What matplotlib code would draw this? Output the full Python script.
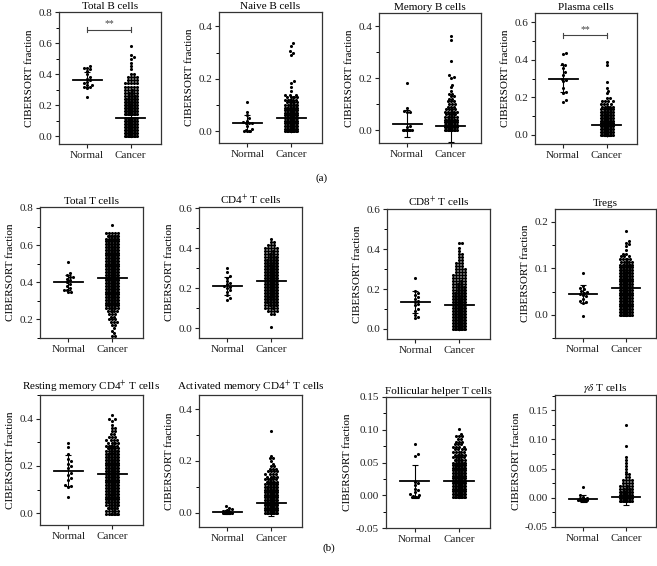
import numpy as np
import matplotlib
matplotlib.use("Agg")
import matplotlib.pyplot as plt
from matplotlib.ticker import MultipleLocator, FormatStrFormatter

plt.rcParams["font.family"] = ["Liberation Serif", "DejaVu Serif"]
plt.rcParams["mathtext.fontset"] = "stix"

# DATA
groups = ["Normal", "Cancer"]
titles = ["Total B cells", "Naive B cells", "Memory B cells", "Plasma cells",
          "Total T cells", "CD4$^{+}$ T cells", "CD8$^{+}$ T cells", "Tregs",
          "Resting memory CD4$^{+}$ T cells", "Activated memory CD4$^{+}$ T cells",
          "Follicular helper T cells", "$\\gamma\\delta$ T cells"]

# normal samples (individual points)
tb_norm = [0.45, 0.44, 0.44, 0.43, 0.42, 0.40, 0.38, 0.37, 0.36, 0.35, 0.34, 0.33, 0.33, 0.32, 0.32, 0.31, 0.25]
nb_norm = [0.11, 0.075, 0.06, 0.05, 0.04, 0.035, 0.03, 0.03, 0.03, 0.02, 0.01, 0.005, 0.0, 0.0, 0.0, 0.0]
mb_norm = [0.18, 0.085, 0.075, 0.07, 0.07, 0.015, 0.01, 0.0, 0.0, 0.0, 0.0, 0.0, 0.0, 0.0, 0.0]
pc_norm = [0.435, 0.43, 0.38, 0.37, 0.355, 0.335, 0.32, 0.30, 0.29, 0.285, 0.25, 0.23, 0.22, 0.185, 0.175]
tt_norm = [0.51, 0.45, 0.44, 0.43, 0.43, 0.42, 0.41, 0.40, 0.39, 0.38, 0.37, 0.36, 0.36, 0.35, 0.345]
cd4_norm = [0.30, 0.28, 0.26, 0.25, 0.235, 0.225, 0.22, 0.21, 0.205, 0.20, 0.19, 0.18, 0.165, 0.15, 0.14]
cd8_norm = [0.255, 0.19, 0.18, 0.17, 0.16, 0.15, 0.14, 0.135, 0.125, 0.12, 0.10, 0.09, 0.07, 0.06, 0.055]
tr_norm = [0.09, 0.063, 0.058, 0.055, 0.052, 0.05, 0.048, 0.045, 0.042, 0.04, 0.035, 0.03, 0.028, 0.025, -0.003]
rm_norm = [0.295, 0.28, 0.25, 0.23, 0.22, 0.21, 0.20, 0.19, 0.17, 0.16, 0.15, 0.14, 0.12, 0.115, 0.11, 0.07]
am_norm = [0.028, 0.02, 0.015, 0.01, 0.008, 0.005, 0.004, 0.003, 0.002, 0.0, 0.0, 0.0, 0.0, 0.0, 0.0, 0.0]
fh_norm = [0.079, 0.063, 0.06, 0.02, 0.018, 0.015, 0.01, 0.008, 0.005, 0.002, 0.0, -0.001, -0.002, -0.002, -0.002, -0.002]
gd_norm = [0.018, 0.004, 0.002, 0.0, -0.001, -0.002, -0.002, -0.003, -0.003, -0.003, -0.004, -0.004, -0.004, -0.005, -0.005]

# cancer samples: value levels and how many points sit at each level
tb_lv = [0.00, 0.02, 0.04, 0.06, 0.08, 0.10, 0.12, 0.14, 0.16, 0.18, 0.20, 0.22, 0.24, 0.26, 0.28, 0.30, 0.32, 0.34,
         0.36, 0.38, 0.40, 0.43, 0.45, 0.47, 0.50, 0.51, 0.52, 0.58]
tb_n = [14, 18, 20, 22, 22, 22, 20, 18, 16, 14, 12, 10, 9, 8, 7, 6, 5, 5, 4, 4, 2, 1, 1, 1, 1, 1, 1, 1]
nb_lv = [0.00, 0.01, 0.02, 0.03, 0.04, 0.05, 0.06, 0.07, 0.08, 0.09, 0.10, 0.11, 0.12, 0.13, 0.14, 0.155, 0.17,
         0.185, 0.19, 0.29, 0.30, 0.305, 0.325, 0.335]
nb_n = [20, 22, 22, 20, 20, 18, 16, 14, 12, 10, 8, 6, 6, 5, 3, 1, 1, 1, 1, 1, 1, 1, 1, 1]
mb_lv = [0.00, 0.01, 0.02, 0.03, 0.04, 0.05, 0.06, 0.07, 0.08, 0.09, 0.10, 0.11, 0.12, 0.13, 0.14, 0.15, 0.165,
         0.175, 0.20, 0.205, 0.21, 0.265, 0.345, 0.36]
mb_n = [50, 25, 18, 14, 10, 7, 6, 6, 4, 3, 3, 3, 2, 2, 2, 1, 1, 1, 1, 1, 1, 1, 1, 1]
pc_lv = [0.000, 0.015, 0.030, 0.045, 0.060, 0.075, 0.090, 0.105, 0.120, 0.135, 0.150, 0.165, 0.180, 0.195,
         0.22, 0.235, 0.25, 0.28, 0.37, 0.39]
pc_n = [30, 30, 28, 24, 20, 17, 14, 12, 10, 8, 6, 4, 4, 2, 1, 1, 1, 1, 1, 1]
tt_lv = [0.110, 0.125, 0.140, 0.155, 0.170, 0.185, 0.200, 0.215, 0.230, 0.245, 0.260, 0.275, 0.290, 0.305,
         0.320, 0.335, 0.350, 0.365, 0.380, 0.395, 0.410, 0.425, 0.440, 0.455, 0.470, 0.485, 0.500, 0.515,
         0.530, 0.545, 0.560, 0.575, 0.590, 0.605, 0.620, 0.635, 0.650, 0.665, 0.710]
tt_n = [2, 1, 1, 1, 2, 3, 3, 2, 3, 5, 7, 9, 10, 10, 11, 12, 12, 12, 12, 12, 12, 12, 12, 12, 12, 12, 12, 12,
        11, 11, 10, 10, 10, 9, 9, 8, 8, 5, 1]
cd4_lv = [0.005, 0.070, 0.085, 0.100, 0.115, 0.130, 0.145, 0.160, 0.175, 0.190, 0.205, 0.220, 0.235, 0.250,
          0.265, 0.280, 0.295, 0.310, 0.325, 0.340, 0.355, 0.370, 0.385, 0.400, 0.415, 0.430, 0.445]
cd4_n = [1, 2, 4, 6, 8, 9, 10, 12, 13, 14, 15, 15, 15, 14, 13, 12, 12, 11, 10, 9, 8, 7, 6, 5, 3, 2, 1]
cd8_lv = [0.000, 0.015, 0.030, 0.045, 0.060, 0.075, 0.090, 0.105, 0.120, 0.135, 0.150, 0.165, 0.180, 0.195,
          0.210, 0.225, 0.240, 0.255, 0.270, 0.285, 0.300, 0.315, 0.330, 0.345, 0.360, 0.375, 0.390, 0.405, 0.430]
cd8_n = [20, 20, 18, 18, 17, 16, 15, 14, 13, 12, 11, 10, 9, 8, 8, 7, 6, 5, 5, 4, 4, 3, 3, 2, 2, 2, 1, 1, 2]
tr_lv = [0.000, 0.006, 0.012, 0.018, 0.024, 0.030, 0.036, 0.042, 0.048, 0.054, 0.060, 0.066, 0.072, 0.078,
         0.084, 0.090, 0.096, 0.102, 0.108, 0.114, 0.120, 0.126, 0.132, 0.140, 0.148, 0.152, 0.155, 0.160, 0.180]
tr_n = [12, 12, 12, 12, 12, 12, 13, 13, 13, 13, 13, 13, 12, 12, 11, 11, 10, 9, 8, 6, 5, 3, 2, 1, 1, 1, 1, 1, 1]
rm_lv = [-0.005, 0.010, 0.022, 0.034, 0.046, 0.058, 0.070, 0.082, 0.094, 0.106, 0.118, 0.130, 0.142, 0.154,
         0.166, 0.178, 0.190, 0.202, 0.214, 0.226, 0.238, 0.250, 0.262, 0.274, 0.286, 0.298, 0.310, 0.322,
         0.334, 0.346, 0.360, 0.375, 0.390, 0.400, 0.415]
rm_n = [8, 6, 7, 8, 9, 10, 10, 11, 11, 11, 11, 11, 11, 11, 11, 11, 11, 10, 10, 10, 9, 9, 8, 7, 6, 5, 4, 3,
        2, 2, 2, 1, 1, 2, 1]
am_lv = [0.00, 0.01, 0.02, 0.03, 0.04, 0.05, 0.06, 0.07, 0.08, 0.09, 0.10, 0.11, 0.12, 0.13, 0.14, 0.15, 0.16,
         0.17, 0.18, 0.19, 0.20, 0.21, 0.22, 0.315]
am_n = [40, 30, 25, 20, 18, 16, 15, 14, 12, 10, 9, 8, 7, 6, 5, 4, 4, 3, 2, 1, 1, 2, 1, 1]
fh_lv = [-0.002, 0.002, 0.006, 0.010, 0.014, 0.018, 0.022, 0.026, 0.030, 0.034, 0.038, 0.042, 0.046, 0.050,
         0.054, 0.058, 0.062, 0.066, 0.070, 0.074, 0.078, 0.082, 0.086, 0.090, 0.094, 0.101]
fh_n = [14, 12, 12, 12, 12, 12, 12, 11, 11, 10, 10, 9, 9, 8, 7, 6, 6, 5, 4, 4, 3, 3, 2, 3, 1, 1]
gd_lv = [-0.005, 0.000, 0.005, 0.010, 0.015, 0.020, 0.025, 0.030, 0.035, 0.040, 0.045, 0.050, 0.055, 0.060,
         0.065, 0.070, 0.088, 0.125]
gd_n = [25, 60, 18, 12, 8, 6, 4, 4, 2, 2, 1, 1, 1, 1, 1, 1, 1, 1]

# mean line and SD bars (normal / cancer)
norm_mean = [0.365, 0.03, 0.025, 0.30, 0.40, 0.21, 0.135, 0.045, 0.18, 0.003, 0.021, -0.002]
norm_sd = [0.05, 0.03, 0.052, 0.073, 0.04, 0.045, 0.055, 0.02, 0.065, 0.008, 0.025, 0.006]
canc_mean = [0.12, 0.05, 0.017, 0.05, 0.425, 0.235, 0.12, 0.058, 0.165, 0.04, 0.022, 0.001]
canc_sd = [0.10, 0.05, 0.062, 0.055, 0.12, 0.08, 0.09, 0.035, 0.09, 0.05, 0.022, 0.014]

# significance brackets: panel index -> bracket height
sig_y = {0: 0.687, 3: 0.53}

normals = [tb_norm, nb_norm, mb_norm, pc_norm, tt_norm, cd4_norm, cd8_norm, tr_norm, rm_norm, am_norm, fh_norm, gd_norm]
levels = [tb_lv, nb_lv, mb_lv, pc_lv, tt_lv, cd4_lv, cd8_lv, tr_lv, rm_lv, am_lv, fh_lv, gd_lv]
counts = [tb_n, nb_n, mb_n, pc_n, tt_n, cd4_n, cd8_n, tr_n, rm_n, am_n, fh_n, gd_n]

# LAYOUT: axes boxes in pixels (left, top, right, bottom)
boxes = [(59, 12, 161, 144), (219, 12, 322, 143), (379, 13, 481, 143), (535, 13, 637, 144),
         (40, 207, 143, 338), (199, 207, 302, 338), (387, 209, 490, 339), (555, 209, 656, 338),
         (40, 395, 143, 525), (199, 395, 302, 527), (386, 397, 490, 528), (555, 395, 656, 527)]
ylims = [(-0.05, 0.8), (-0.045, 0.455), (-0.05, 0.45), (-0.05, 0.65), (0.1, 0.805), (-0.05, 0.605),
         (-0.05, 0.6), (-0.05, 0.228), (-0.05, 0.5), (-0.054, 0.454), (-0.05, 0.15), (-0.05, 0.176)]
majors = [0.2, 0.2, 0.2, 0.2, 0.2, 0.2, 0.2, 0.1, 0.2, 0.2, 0.05, 0.05]
fmts = ["%.1f"] * 10 + ["%.2f", "%.2f"]

W, H = 657, 566
XMIN, XMAX = 0.35, 2.7
FS = 8


def swarm(vals, px_x, px_y, d=3.0, max_w=6.0):
    """Beeswarm offsets: put each point as close to the centre as it fits (pixel space)."""
    ys = np.asarray(vals, float) * px_y
    order = np.argsort(ys, kind="stable")
    cands = [0.0]
    k = 1
    while k * d / 2 <= max_w + 1e-9:
        cands += [k * d / 2, -k * d / 2]
        k += 1
    placed_x, placed_y = [], []
    offs = np.zeros(len(ys))
    for i in order:
        y = ys[i]
        px = np.array(placed_x)
        py = np.array(placed_y)
        if len(py):
            m = np.abs(py - y) < d
            nx, ny = px[m], py[m]
        else:
            nx, ny = np.array([]), np.array([])
        best, best_dist = 0.0, -1.0
        for c in cands:
            dist = np.min(np.hypot(nx - c, ny - y)) if len(nx) else np.inf
            if dist >= d * 0.95:
                best = c
                break
            if dist > best_dist:
                best, best_dist = c, dist
        offs[i] = best
        placed_x.append(best)
        placed_y.append(y)
    return offs / px_x


fig = plt.figure(figsize=(W / 100, H / 100), dpi=100)

for i in range(12):
    l, t, r, b = boxes[i]
    ax = fig.add_axes([l / W, 1 - b / H, (r - l) / W, (b - t) / H])
    ax.set_xlim(XMIN, XMAX)
    ax.set_ylim(*ylims[i])
    px_x = (r - l) / (XMAX - XMIN)
    px_y = (b - t) / (ylims[i][1] - ylims[i][0])

    norm = np.array(normals[i])
    canc = np.repeat(levels[i], counts[i])
    for xpos, vals, w in [(1, norm, 4.5), (2, canc, 6.5)]:
        off = swarm(vals, px_x, px_y, max_w=w)
        ax.scatter(xpos + off, vals, s=5, c="black", linewidths=0, zorder=2)

    # mean line + SD
    for xpos, m, s in [(1, norm_mean[i], norm_sd[i]), (2, canc_mean[i], canc_sd[i])]:
        ax.plot([xpos - 0.33, xpos + 0.33], [m, m], color="black", lw=1.3, zorder=3)
        ax.errorbar(xpos, m, yerr=s, fmt="none", ecolor="black", elinewidth=0.8,
                    capsize=2.5, capthick=0.8, zorder=3)

    if i in sig_y:
        y = sig_y[i]
        h = 2.5 / px_y
        ax.plot([1, 2], [y, y], color="#444444", lw=0.8)
        ax.plot([1, 1], [y - h, y + h], color="#444444", lw=0.8)
        ax.plot([2, 2], [y - h, y + h], color="#444444", lw=0.8)
        ax.text(1.5, y + 1.0 / px_y, "**", ha="center", va="bottom", fontsize=7, color="#444444")

    ax.set_title(titles[i], fontsize=FS, pad=2.5)
    ax.set_ylabel("CIBERSORT fraction", fontsize=FS, labelpad=3)
    ax.set_xticks([1, 2])
    ax.set_xticklabels(groups)
    ax.yaxis.set_major_locator(MultipleLocator(majors[i]))
    ax.yaxis.set_minor_locator(MultipleLocator(majors[i] / 2))
    ax.yaxis.set_major_formatter(FormatStrFormatter(fmts[i]))
    ax.tick_params(labelsize=FS, length=3, width=0.8, pad=2, colors="#222222")
    ax.tick_params(which="minor", length=2, width=0.7)
    for sp in ax.spines.values():
        sp.set_color("#333333")
        sp.set_linewidth(0.9)

fig.text(322 / W, 1 - 178 / H, "(a)", ha="center", va="center", fontsize=FS)
fig.text(329 / W, 1 - 548 / H, "(b)", ha="center", va="center", fontsize=FS)

fig.savefig("out.png", dpi=100)
